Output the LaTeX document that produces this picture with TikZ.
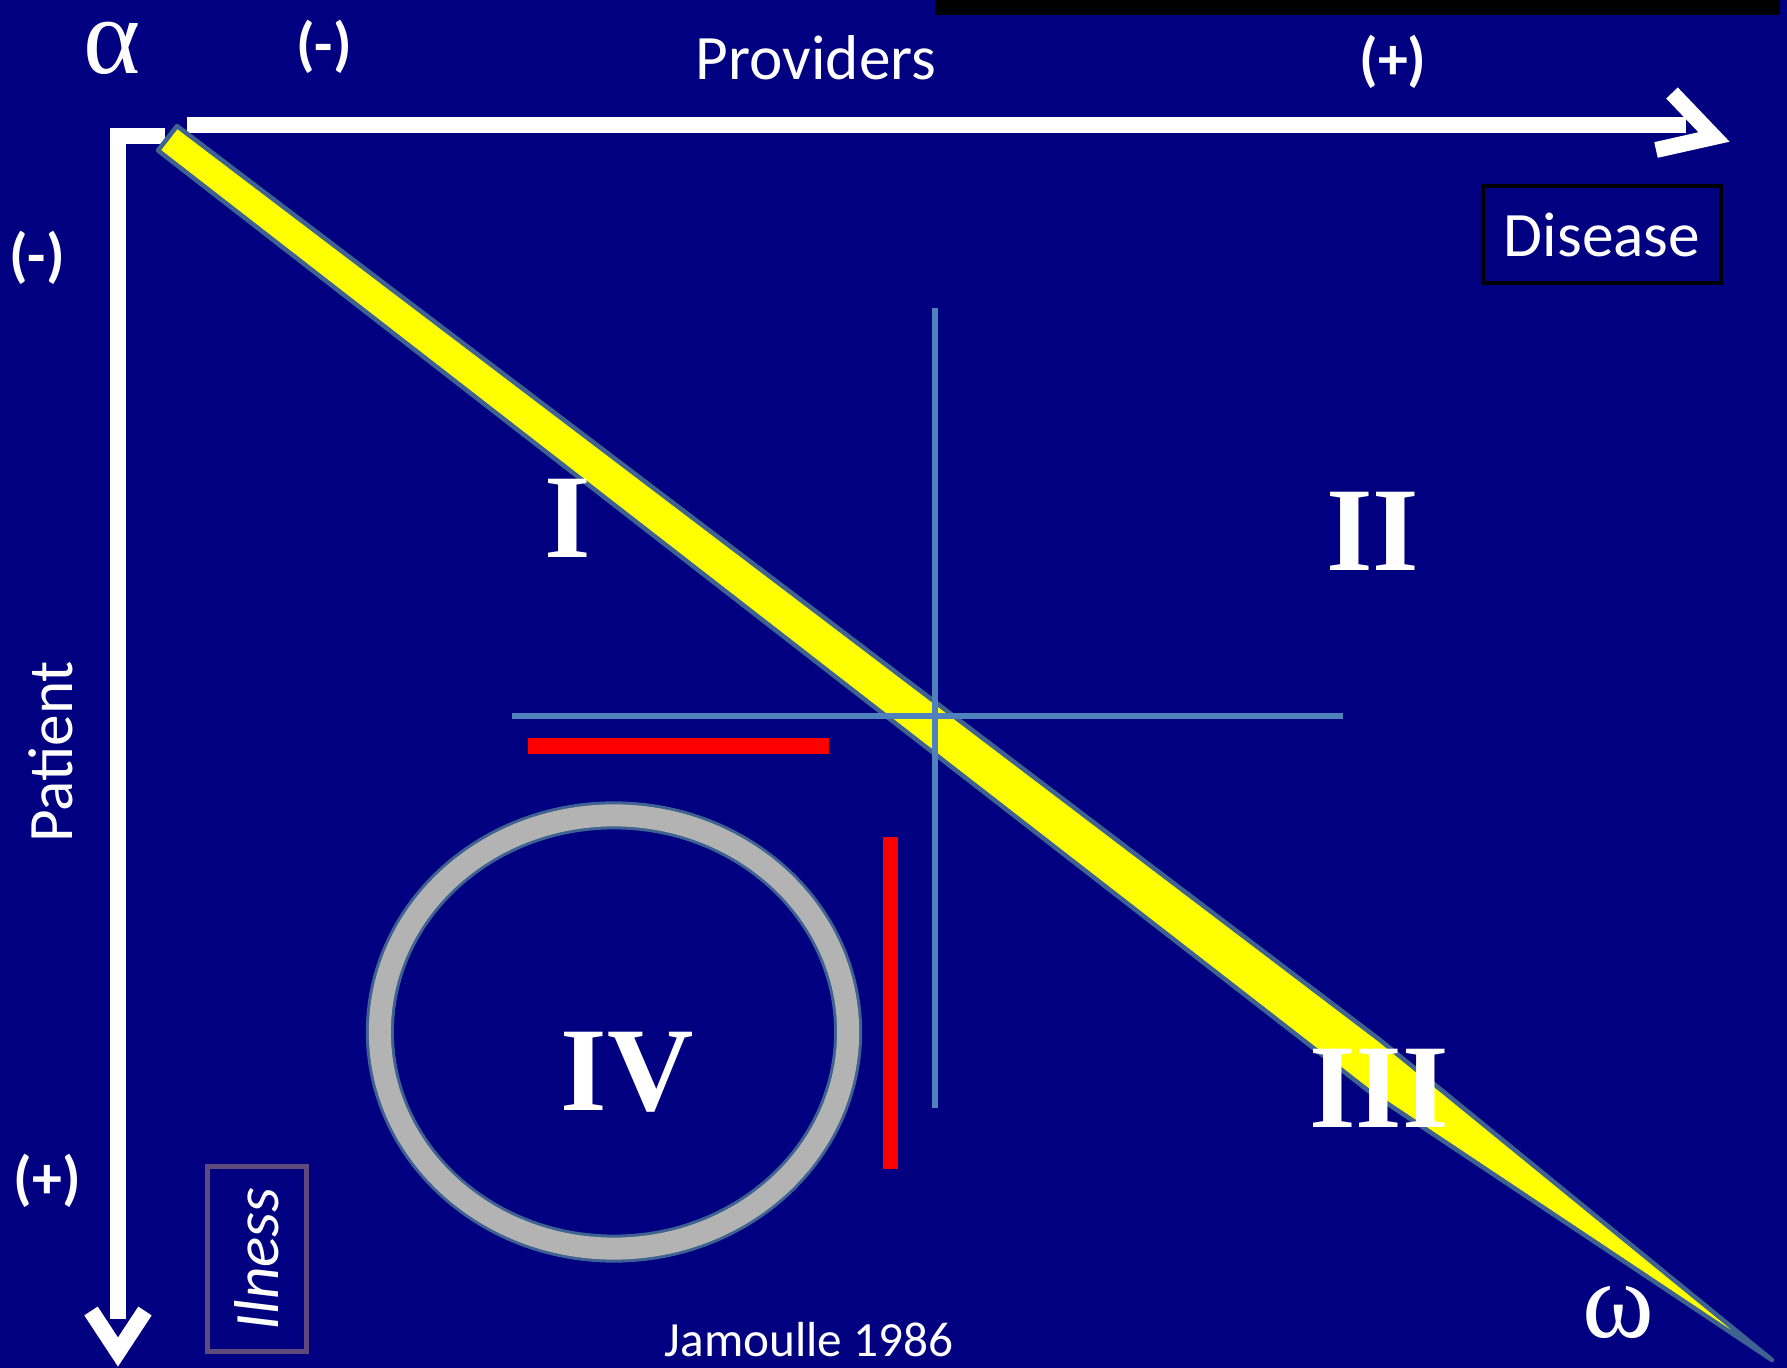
\documentclass[tikz,border=0pt]{standalone}
\usepackage{fontspec}
\setmainfont{Carlito}
\newfontfamily\quadfont{Liberation Serif}
\usetikzlibrary{arrows.meta, positioning}
\definecolor{slide}   {HTML}{000080}
\definecolor{band}    {HTML}{FFFF00}
\definecolor{bandedge}{HTML}{3E6291}
\definecolor{cross}   {HTML}{4F81BD}
\definecolor{ring}    {HTML}{B3B3B3}
\definecolor{illbox}  {HTML}{604A7B}

\begin{document}
\begin{tikzpicture}[x=0.01cm, y=-0.01cm,
    axis/.style={white, line width=0.16cm, line join=miter},
    sign/.style={text=white, font=\fontsize{17}{20}\selectfont\bfseries},
    axlabel/.style={text=white, font=\fontsize{18}{22}\selectfont},
    quad/.style={text=white, font=\quadfont\fontsize{34}{38}\selectfont\bfseries},
    greek/.style={text=white, font=\quadfont\fontsize{31}{35}\selectfont},
    redbar/.style={red, line width=0.155cm},
    crossline/.style={cross, line width=0.06cm}
  ]
    \useasboundingbox (0,0) rectangle (1787,1368);
    \fill[slide] (0,0) rectangle (1787,1368);
    \fill[black] (935,0) rectangle (1780,15);

    % axes: patient runs down, providers run right
    \coordinate (stub)   at (165,136.5);
    \coordinate (corner) at (118,136.5);
    \coordinate (ybot)   at (118,1319);
    \coordinate (xstart) at (187,125);
    \coordinate (xend)   at (1686,125);
    \draw[axis] (stub) -- (corner) -- (ybot);
    \draw[axis] (xstart) -- (xend);
    \draw[axis] (1672,93) -- (1714,137) -- (1656,150);
    \draw[axis] (91,1311) -- (118,1352) -- (145,1311);

    % the alpha-omega band, tapering after III
    \draw[fill=band, draw=bandedge, line width=0.045cm, line join=round]
      (177,126) -- (1380,1040) -- (1772,1360) -- (1370,1092) -- (158,150.5) -- cycle;

    \draw[crossline] (934.5,308) -- (934.5,1108);
    \draw[crossline] (512,716) -- (1343,716);

    \draw[redbar] (528,746) -- (829,746);
    \draw[redbar] (890.5,837) -- (890.5,1169);

    \draw[bandedge, line width=0.28cm] (614,1032) ellipse [x radius=2.34cm, y radius=2.165cm];
    \draw[ring, line width=0.22cm] (614,1032) ellipse [x radius=2.34cm, y radius=2.165cm];

    \node[greek] (alpha) at (112,48)    {α};
    \node[greek] (omega) at (1618,1312) {ω};

    \node[sign] (xminus) at (324,47)    {(-)};
    \node[sign] (xplus)  at (1393,62)   {(+)};
    \node[sign] (yminus) at (37,258)    {(-)};
    \node[sign] (yplus)  at (47.5,1181) {(+)};

    \node[axlabel] (prov) at (816,58) {Providers};
    \node[axlabel, rotate=90] (pat) at (51,752) {Patient};

    \node[axlabel, draw=black, line width=0.04cm, minimum width=2.38cm,
          minimum height=0.97cm] (dis) at (1602,234.5) {Disease};
    \node[axlabel, font=\fontsize{18}{22}\selectfont\itshape, rotate=90,
          draw=illbox, line width=0.045cm, minimum width=1.85cm,
          minimum height=0.99cm] (ill) at (257,1259) {Ilness};

    \node[quad] (q1) at (568,518)   {I};
    \node[quad] (q2) at (1373,531)  {II};
    \node[quad] (q3) at (1379,1088) {III};
    \node[quad] (q4) at (627,1072)  {IV};

    \node[text=white, font=\fontsize{14}{17}\selectfont] (src) at (809,1340) {Jamoulle 1986};
  \end{tikzpicture}
\end{document}
